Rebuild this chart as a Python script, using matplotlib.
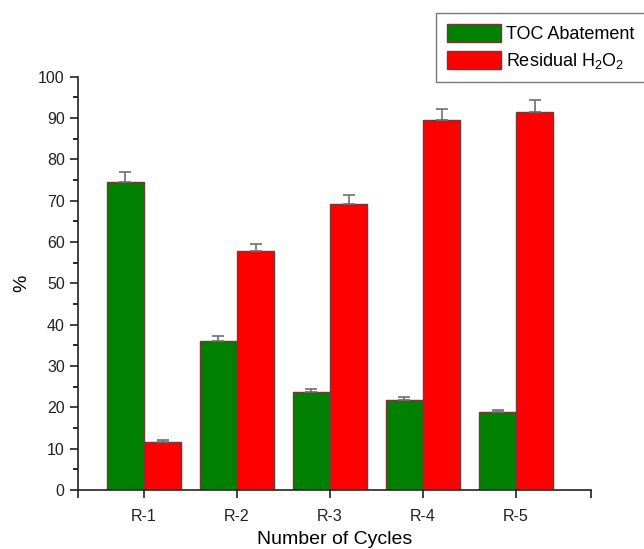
import numpy as np
import matplotlib
matplotlib.use("Agg")
import matplotlib.pyplot as plt
from matplotlib.ticker import MultipleLocator

plt.rcParams['font.family'] = ['Liberation Sans', 'DejaVu Sans']
plt.rcParams['mathtext.fontset'] = 'custom'
plt.rcParams['mathtext.rm'] = 'Liberation Sans'
plt.rcParams['mathtext.default'] = 'regular'

cycles = ["R-1", "R-2", "R-3", "R-4", "R-5"]
toc = [74.6, 36.1, 23.6, 21.8, 18.8]
toc_err = [2.4, 1.1, 0.8, 0.7, 0.5]
h2o2 = [11.7, 57.9, 69.3, 89.6, 91.5]
h2o2_err = [0.3, 1.7, 2.1, 2.7, 2.9]

x = np.arange(1, len(cycles) + 1)
w = 0.4
edge = '#7a3535'
errc = '#6e6e6e'

fig = plt.figure(figsize=(6.44, 5.49), dpi=100)
ax = fig.add_axes([0.121, 0.1075, 0.796, 0.7528])

ekw = dict(ecolor=errc, elinewidth=1.2, capsize=4, capthick=1.2)
ax.bar(x - w / 2, toc, w, color='#008000', edgecolor=edge, linewidth=1,
       yerr=[np.zeros(5), toc_err], error_kw=ekw, label='TOC Abatement')
ax.bar(x + w / 2, h2o2, w, color='#ff0000', edgecolor=edge, linewidth=1,
       yerr=[np.zeros(5), h2o2_err], error_kw=ekw, label='Residual H$_2$O$_2$')

ax.set_xlim(0.29, 5.8)
ax.set_ylim(0, 100)
ax.set_xticks(list(x) + [0.29, 5.8])
ax.set_xticklabels(cycles + ["", ""])
ax.yaxis.set_major_locator(MultipleLocator(10))
ax.yaxis.set_minor_locator(MultipleLocator(5))
ax.tick_params(axis='both', direction='out', length=6, width=1.2, labelsize=11.5, colors='#222222')
ax.tick_params(axis='x', pad=8)
ax.tick_params(axis='y', which='minor', direction='out', length=3.5, width=1.2)
ax.spines['top'].set_visible(False)
ax.spines['right'].set_visible(False)
for s in ['left', 'bottom']:
    ax.spines[s].set_linewidth(1.2)
    ax.spines[s].set_color('#222222')

ax.set_xlabel("Number of Cycles", fontsize=14, labelpad=5)
ax.set_ylabel("%", fontsize=14, labelpad=6)

leg = fig.legend(loc='upper left', bbox_to_anchor=(435.7 / 644, 1 - 13.3 / 549),
                 fontsize=13, fancybox=False, edgecolor='#777777', framealpha=1,
                 handlelength=3.0, handleheight=1.15, borderpad=0.6, labelspacing=0.45,
                 handletextpad=0.3, borderaxespad=0)
leg.get_frame().set_linewidth(1.0)

fig.savefig("out.png", dpi=100)
